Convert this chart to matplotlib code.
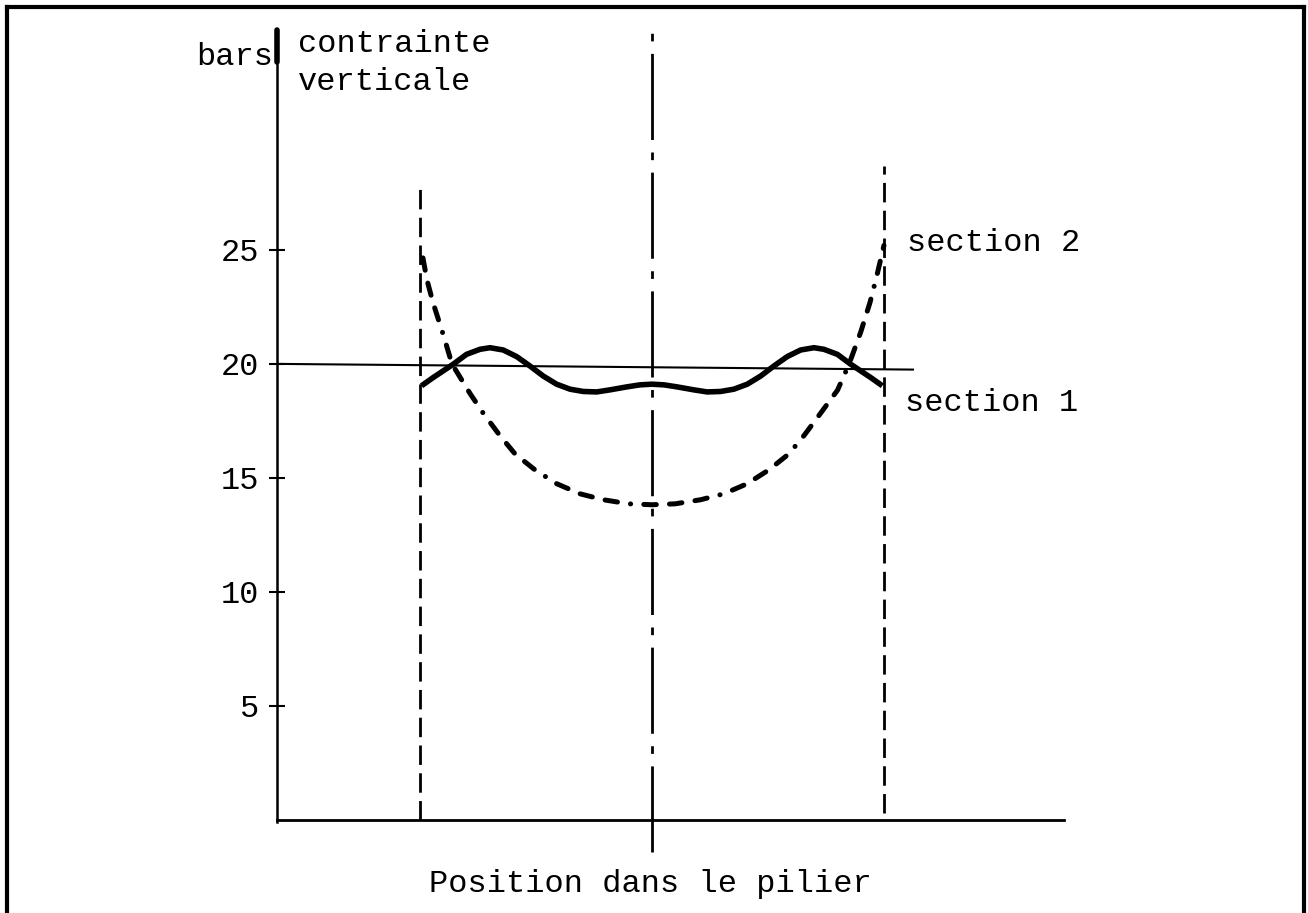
import matplotlib
matplotlib.use('Agg')
import matplotlib.pyplot as plt
from matplotlib.lines import Line2D

plt.rcParams['font.family'] = ['Liberation Mono', 'DejaVu Sans Mono']
plt.rcParams['lines.scale_dashes'] = False

# position in the pillar: -1 and +1 are the pillar faces, 0 is its axis
sec1_x = [-0.993, -0.943, -0.856, -0.799, -0.741, -0.698, -0.641, -0.583, -0.526, -0.469, -0.411,
          -0.353, -0.296, -0.238, -0.181, -0.109, -0.052, 0.0,
          0.052, 0.109, 0.181, 0.238, 0.296, 0.353, 0.411, 0.469, 0.526, 0.583, 0.641,
          0.698, 0.741, 0.799, 0.856, 0.943, 0.993]
sec1_y = [19.04, 19.40, 19.99, 20.42, 20.64, 20.71, 20.61, 20.32, 19.91, 19.47, 19.11,
          18.89, 18.79, 18.77, 18.86, 18.99, 19.08, 19.11,
          19.08, 18.99, 18.86, 18.77, 18.79, 18.89, 19.11, 19.47, 19.91, 20.32, 20.61,
          20.71, 20.64, 20.42, 19.99, 19.40, 19.04]

sec2_x = [-0.987, -0.97, -0.944, -0.90, -0.862, -0.784, -0.728, -0.655, -0.59, -0.504, -0.41,
          -0.31, -0.21, -0.10, 0.0,
          0.10, 0.21, 0.31, 0.41, 0.504, 0.59, 0.655, 0.728, 0.80, 0.85, 0.90, 0.94, 0.97, 1.0]
sec2_y = [24.65, 23.7, 22.7, 21.3, 20.0, 18.7, 17.85, 16.85, 16.05, 15.35, 14.74,
          14.3, 14.04, 13.86, 13.82,
          13.86, 14.04, 14.3, 14.74, 15.35, 16.05, 16.85, 17.85, 18.85, 20.0, 21.4, 22.7, 23.9, 25.2]

ref_x = [-1.616, 1.125]
ref_y = [20.0, 19.75]

face_x = [-1.0, 1.0]
face_bottom = [0.0, 0.3]
face_top = [28.0, 28.7]

axis_x = 0.0
axis_span = [-1.4, 34.9]

yticks = [5, 10, 15, 20, 25]
ytick_labels = ['5', '10', '15', '20', '25']

fig = plt.figure(figsize=(13.08, 9.13), dpi=100)
ax = fig.add_axes([277/1308, 91/913, 787/1308, 792/913])
ax.set_xlim(-1.616, 1.776)
ax.set_ylim(-0.1, 34.65)

for s in ['top', 'right']:
    ax.spines[s].set_visible(False)
ax.spines['left'].set_linewidth(1.8)
ax.spines['bottom'].set_linewidth(2.0)
ax.spines['bottom'].set_position(('data', 0))

ax.set_xticks([])
ax.set_yticks(yticks)
ax.set_yticklabels(ytick_labels)
ax.tick_params(axis='y', direction='inout', length=12, width=1.5, pad=7, labelsize=23)

# thick stroke at the top of the stress axis
ax.plot([-1.616, -1.616], [33.25, 34.65], color='k', lw=4, solid_capstyle='round', clip_on=False)

# pillar faces and axis
for fx, fb, ft in zip(face_x, face_bottom, face_top):
    ax.plot([fx, fx], [fb, ft], color='k', lw=2, dashes=(14, 6), clip_on=False)
ax.plot([axis_x, axis_x], axis_span, color='k', lw=2, dashes=(62, 9, 5.5, 9), clip_on=False)

ax.plot(ref_x, ref_y, color='k', lw=1.5)

ax.plot(sec1_x, sec1_y, color='k', lw=4, solid_joinstyle='round', solid_capstyle='butt')
ax.plot(sec2_x, sec2_y, color='k', lw=3.6, dash_capstyle='round', dash_joinstyle='round',
        dashes=(9, 9.5, 9, 9.5, 9, 9.5, 0.1, 9.5))

ax.text(1.10, 25.3, 'section 2', fontsize=23, va='center', ha='left')
ax.text(1.09, 18.3, 'section 1', fontsize=23, va='center', ha='left')
ax.text(-1.634, 33.1, 'bars', fontsize=23, va='baseline', ha='right')
ax.text(-1.526, 33.7, 'contrainte', fontsize=23, va='baseline', ha='left')
ax.text(-1.526, 32.0, 'verticale', fontsize=23, va='baseline', ha='left')

fig.text(650/1308, 21/913, 'Position dans le pilier', fontsize=23, ha='center', va='baseline')

# frame round the figure
x0, x1, yt = 7/1308, 1304/1308, 1 - 7/913
for xs, ys in [([x0, x1], [yt, yt]), ([x0, x0], [yt, 0]), ([x1, x1], [yt, 0])]:
    fig.add_artist(Line2D(xs, ys, color='k', lw=3, transform=fig.transFigure))

plt.savefig('out.png', dpi=100)
plt.close('all')
